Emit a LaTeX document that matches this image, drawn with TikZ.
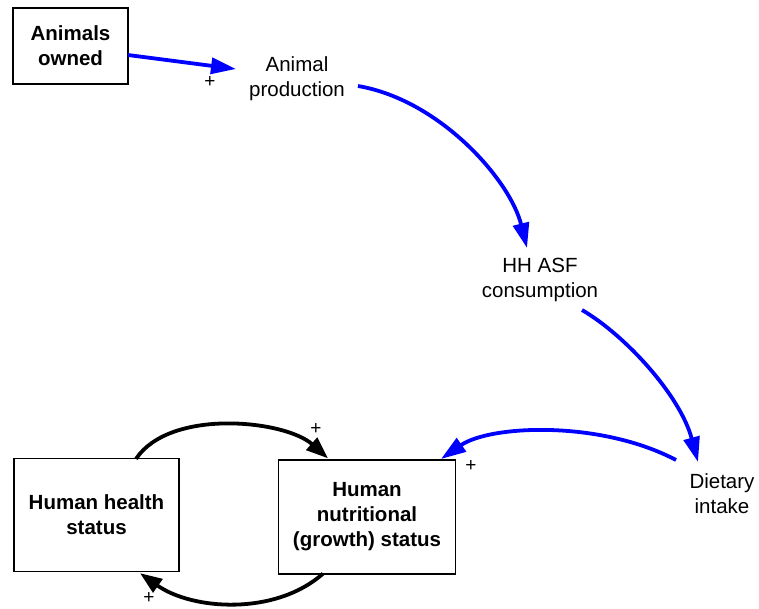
\documentclass[tikz,border=0pt]{standalone}
\usepackage{fontspec}
\setmainfont{Liberation Sans}
\usetikzlibrary{arrows.meta,calc}
\begin{document}
\begin{tikzpicture}[x=1pt,y=-1pt,
  txt/.style={align=center,font=\fontsize{20.5}{25}\selectfont,inner sep=0pt},
  boxnode/.style={draw,line width=1.3pt,align=center,font=\fontsize{20.5}{25}\selectfont\bfseries,inner sep=0pt},
  bluearr/.style={draw={rgb,255:red,0;green,0;blue,255},line width=3.8pt,-{Triangle[length=25pt,width=16pt]}},
  blackarr/.style={draw=black,line width=3.8pt,-{Triangle[length=22pt,width=16pt]}},
  sign/.style={font=\fontsize{19}{19}\selectfont,inner sep=0pt}]
\useasboundingbox (0,0) rectangle (759,608);
\node[boxnode,minimum width=115pt,minimum height=76pt] (ao) at (70.5,46) {Animals\\owned};
\node[txt] (ap) at (297,79) {Animal\\production};
\node[txt] (hh) at (540,280) {HH ASF\\consumption};
\node[txt] (di) at (722,494) {Dietary\\intake};
\node[boxnode,minimum width=165pt,minimum height=113pt] (hs) at (96.5,515) {Human health\\status};
\node[boxnode,minimum width=177pt,minimum height=114pt] (hn) at (367,517) {Human\\nutritional\\(growth) status};

\draw[bluearr] ($(ao.center)+(57.5,9)$) -- ($(ap.center)+(-61,-10)$);
\draw[bluearr] ($(ap.center)+(61,7)$) .. controls (440,100) and (510,180) .. ($(hh.center)+(-13,-32)$);
\draw[bluearr] ($(hh.center)+(42,30)$) .. controls (625,335) and (680,395) .. ($(di.center)+(-24,-32)$);
\draw[bluearr] ($(di.center)+(-46,-34)$) .. controls (600,420) and (490,425) .. ($(hn.center)+(74,-58)$);
\draw[blackarr] ($(hs.north)+(39.5,1)$) .. controls (170,408) and (285,420) .. ($(hn.north)+(-39,-1)$);
\draw[blackarr] ($(hn.south)+(-44,-1)$) .. controls (275,616) and (192,610) .. ($(hs.south)+(43.5,1)$);

\node[sign] (s1) at (210,82) {+};
\node[sign] (s2) at (471,466) {+};
\node[sign] (s3) at (316,429) {+};
\node[sign] (s4) at (149,598) {+};
\end{tikzpicture}
\end{document}
